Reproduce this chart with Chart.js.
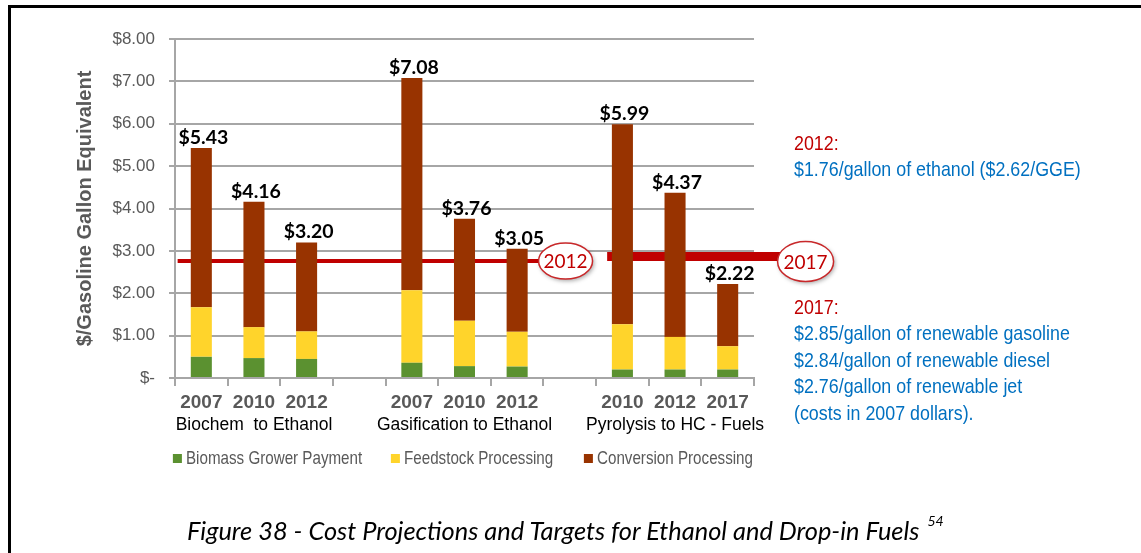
<!DOCTYPE html>
<html>
<head>
<meta charset="utf-8">
<script src="https://cdn.jsdelivr.net/npm/chart.js@4.4.1/dist/chart.umd.min.js"></script>
<style>
  html, body { margin: 0; padding: 0; background: #fff; }
  body { width: 1141px; height: 553px; position: relative; overflow: hidden; }
  #frame { position: absolute; left: 8px; top: 5px; right: -20px; bottom: -20px;
           border-top: 3px solid #000; border-left: 3px solid #000; }
  #wrap { position: absolute; left: 0; top: 0; width: 1141px; height: 553px; }
  .note { position: absolute; left: 794px; font-family: 'Liberation Sans', Arial, sans-serif;
          font-size: 21px; line-height: 26.4px; color: #0070c0; white-space: nowrap;
          transform: scaleX(0.85); transform-origin: 0 0; }
  .note .yr { color: #c00000; }
  .lg { position: absolute; top: 447px; font-family: 'Liberation Sans', Arial, sans-serif;
        font-size: 18.5px; line-height: 22px; color: #595959; white-space: nowrap;
        transform: scaleX(0.82); transform-origin: 0 0; }
  .lg i { position: absolute; left: -16px; top: 7px; width: 11px; height: 9px; }
  #caption { position: absolute; left: 187px; top: 509px; font-family: Lato, sans-serif; font-style: italic;
             font-size: 25.4px; line-height: 34px; color: #000; white-space: nowrap; }
  #caption sup { font-size: 14px; position: relative; top: -5px; margin-left: 8px; }
</style>
</head>
<body>
<div id="frame"></div>
<div id="wrap"><canvas id="c" width="1141" height="553"></canvas></div>
<div class="note" id="note2012" style="top:130px"></div>
<div class="note" id="note2017" style="top:294px"></div>
<div id="legend"></div>
<div id="caption">Figure 38 - Cost Projections and Targets for Ethanol and Drop-in Fuels<sup>54</sup></div>
<script>
// Years shown under each bar (blank slots separate the three pathways)
const categories = ['2007', '2010', '2012', '', '2007', '2010', '2012', '', '2010', '2012', '2017'];
// Pathway names centred under each group of three bars
const pathways = ['', 'Biochem  to Ethanol', '', '', '', 'Gasification to Ethanol', '', '', '', 'Pyrolysis to HC - Fuels', ''];

// Cost components, $/gallon gasoline equivalent
const growerPayment        = [0.50, 0.47, 0.45, null, 0.36, 0.28, 0.27, null, 0.20, 0.20, 0.20];
const feedstockProcessing  = [1.17, 0.73, 0.65, null, 1.71, 1.07, 0.82, null, 1.07, 0.77, 0.55];
const conversionProcessing = [3.76, 2.96, 2.10, null, 5.01, 2.41, 1.96, null, 4.72, 3.40, 1.47];

const seriesNames = ['Biomass Grower Payment', 'Feedstock Processing', 'Conversion Processing'];
const yTickLabels = ['$-', '$1.00', '$2.00', '$3.00', '$4.00', '$5.00', '$6.00', '$7.00', '$8.00'];

// Cost targets drawn as red bars with year badges
const targetYears  = ['2012', '2017'];
const targetValues = [2.76, 2.87];

// Target notes on the right
const notes2012 = ['2012:', '$1.76/gallon of ethanol ($2.62/GGE)'];
const notes2017 = ['2017:', '$2.85/gallon of renewable gasoline', '$2.84/gallon of renewable diesel',
                   '$2.76/gallon of renewable jet', '(costs in 2007 dollars).'];

const COLORS = ['#5b9130', '#ffd42b', '#983300'];
const GREY = '#595959';
const GRID = '#a6a6a6';
const RED = '#c00000';

// Where each target bar starts and where its badge sits, in category units
const targetLayout = [
  { from: -0.45, at: 6.92, lineWidth: 4, rx: 27, ry: 18, dy: 0 },
  { from: 7.71, at: 11.48, lineWidth: 9, rx: 28, ry: 20, dy: 5 }
];

const targetsPlugin = {
  id: 'targets',
  beforeDatasetsDraw(chart) {
    const { ctx, scales: { x, y } } = chart;
    ctx.save();
    targetValues.forEach((v, i) => {
      const L = targetLayout[i];
      const py = y.getPixelForValue(v);
      ctx.strokeStyle = RED;
      ctx.lineWidth = L.lineWidth;
      ctx.beginPath();
      ctx.moveTo(x.getPixelForValue(L.from), py);
      ctx.lineTo(x.getPixelForValue(L.at), py);
      ctx.stroke();
    });
    ctx.restore();
  },
  afterDatasetsDraw(chart) {
    const { ctx, scales: { x, y } } = chart;
    // stack totals above each bar
    ctx.save();
    ctx.fillStyle = '#000';
    ctx.font = 'bold 19.5px Lato, sans-serif';
    ctx.textAlign = 'center';
    ctx.textBaseline = 'alphabetic';
    categories.forEach((c, i) => {
      if (growerPayment[i] == null) return;
      const total = growerPayment[i] + feedstockProcessing[i] + conversionProcessing[i];
      ctx.fillText('$' + total.toFixed(2), x.getPixelForValue(i) + 2, y.getPixelForValue(total) - 4);
    });
    ctx.restore();

    // year badges at the end of each target bar
    targetValues.forEach((v, i) => {
      const L = targetLayout[i];
      const cx = x.getPixelForValue(L.at);
      const cy = y.getPixelForValue(v) + L.dy;
      ctx.save();
      ctx.shadowColor = 'rgba(0,0,0,0.35)';
      ctx.shadowBlur = 4;
      ctx.shadowOffsetX = 1.5;
      ctx.shadowOffsetY = 2;
      ctx.beginPath();
      ctx.ellipse(cx, cy, L.rx, L.ry, 0, 0, Math.PI * 2);
      ctx.fillStyle = '#fff';
      ctx.fill();
      ctx.shadowColor = 'transparent';
      ctx.lineWidth = 1.5;
      ctx.strokeStyle = '#c8282a';
      ctx.stroke();
      ctx.fillStyle = RED;
      ctx.font = '19px Lato, sans-serif';
      ctx.textAlign = 'center';
      ctx.textBaseline = 'middle';
      ctx.fillText(targetYears[i], cx, cy + 1);
      ctx.restore();
    });
  }
};

const seriesData = [growerPayment, feedstockProcessing, conversionProcessing];

const chart = new Chart(document.getElementById('c'), {
  type: 'bar',
  data: {
    labels: categories,
    datasets: seriesData.map((d, i) => ({
      label: seriesNames[i],
      data: d,
      backgroundColor: COLORS[i],
      borderWidth: 0,
      barPercentage: 0.4,
      categoryPercentage: 1.0
    }))
  },
  options: {
    responsive: false,
    animation: false,
    layout: { padding: { left: 0, top: 39, right: 387, bottom: 109 } },
    plugins: { legend: { display: false }, tooltip: { enabled: false } },
    scales: {
      x: {
        stacked: true,
        offset: true,
        grid: { display: true, drawOnChartArea: false, offset: true, color: GRID, lineWidth: 2, tickLength: 8 },
        border: { color: GRID, width: 2 },
        ticks: { color: GREY, font: { family: 'Liberation Sans', weight: 'bold', size: 19 },
                 padding: 5, maxRotation: 0, autoSkip: false },
        afterFit(s) { s.height = 36; }
      },
      x2: {
        type: 'category',
        labels: pathways,
        position: 'bottom',
        offset: true,
        grid: { display: false, drawTicks: false },
        border: { display: false },
        ticks: { color: '#000', font: { family: 'Liberation Sans', size: 17.5, lineHeight: 1 },
                 padding: 2, maxRotation: 0, autoSkip: false },
        afterFit(s) { s.height = 30; }
      },
      y: {
        stacked: true,
        min: 0,
        max: 8,
        ticks: { stepSize: 1, callback: (v, i) => yTickLabels[i], color: GREY,
                 font: { family: 'Liberation Sans', size: 17 }, padding: 14 },
        grid: { color: GRID, lineWidth: 2, tickLength: 6 },
        border: { color: GRID, width: 2 },
        title: { display: true, text: '$/Gasoline Gallon Equivalent', color: GREY,
                 font: { family: 'Liberation Sans', weight: 'bold', size: 20 }, padding: { top: 73, bottom: 0 } },
        afterFit(s) { s.width = 175; }
      }
    }
  },
  plugins: [targetsPlugin]
});

// Notes
function fillNote(id, lines) {
  const el = document.getElementById(id);
  lines.forEach((t, i) => {
    const d = document.createElement('div');
    if (i === 0) d.className = 'yr';
    d.textContent = t;
    el.appendChild(d);
  });
}
fillNote('note2012', notes2012);
fillNote('note2017', notes2017);

// Legend built from the chart's datasets
const legendX = [186, 404, 597];
const legend = document.getElementById('legend');
chart.data.datasets.forEach((ds, i) => {
  const item = document.createElement('div');
  item.className = 'lg';
  item.style.left = legendX[i] + 'px';
  const sw = document.createElement('i');
  sw.style.background = ds.backgroundColor;
  item.appendChild(sw);
  item.appendChild(document.createTextNode(ds.label));
  legend.appendChild(item);
});
</script>
</body>
</html>
